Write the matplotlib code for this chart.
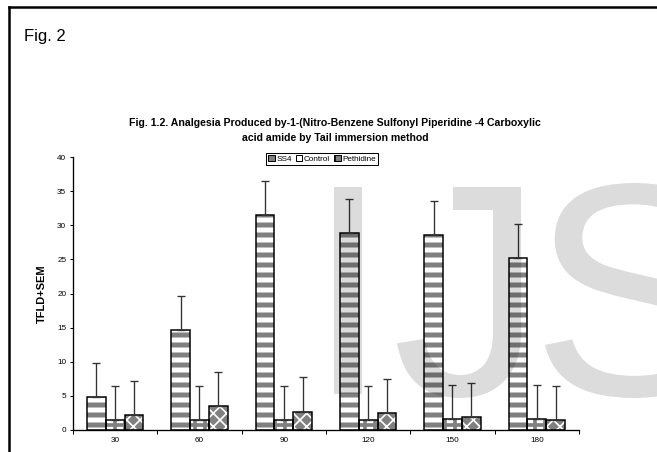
import matplotlib
matplotlib.use("Agg")
import matplotlib.pyplot as plt
import numpy as np
from matplotlib.patches import Patch, PathPatch
from matplotlib.lines import Line2D
from matplotlib.textpath import TextPath
from matplotlib.font_manager import FontProperties
from matplotlib.transforms import Affine2D

plt.rcParams['font.family'] = ['Liberation Sans', 'DejaVu Sans']

times = ['30', '60', '90', '120', '150', '180']
ss4 = [4.8, 14.6, 31.5, 28.9, 28.6, 25.2]
ss4_err = [5.0, 5.0, 5.0, 5.0, 5.0, 5.0]
control = [1.5, 1.5, 1.5, 1.5, 1.6, 1.6]
control_err = [5.0, 5.0, 5.0, 5.0, 5.0, 5.0]
pethidine = [2.2, 3.5, 2.7, 2.5, 1.9, 1.5]
pethidine_err = [5.0, 5.0, 5.0, 5.0, 5.0, 5.0]

W, H = 657, 452
fig = plt.figure(figsize=(W/120, H/120), dpi=120)

# watermark letters, placed by their ink box (left px, top px, bottom px);
# translucent black on top so white -> light gray, like a multiply overlay
wm_fp = FontProperties(family='Liberation Sans')
for letter, left, top, bottom in [('I', 334, 187, 394), ('J', 397, 187, 398), ('S', 545, 183, 398)]:
    tp = TextPath((0, 0), letter, size=1, prop=wm_fp)
    ext = tp.get_extents()
    s = (bottom - top) / ext.height
    tr = Affine2D().translate(-ext.x0, -ext.y0).scale(s/W, s/H).translate(left/W, 1-bottom/H)
    fig.add_artist(PathPatch(tp, transform=tr + fig.transFigure, facecolor='black',
                             alpha=0.137, lw=0, zorder=5))

# page frame
fig.add_artist(Line2D([9/W, 9/W], [0, 1-7/H], color='black', lw=1.5))
fig.add_artist(Line2D([9/W, 1], [1-7/H, 1-7/H], color='black', lw=1.5))

fig.text(24/W, 1-36/H, 'Fig. 2', fontsize=10, va='center', ha='left')
fig.text(335/W, 1-130.5/H,
         'Fig. 1.2. Analgesia Produced by-1-(Nitro-Benzene Sulfonyl Piperidine -4 Carboxylic\nacid amide by Tail immersion method',
         fontsize=6.3, fontweight='bold', ha='center', va='center', linespacing=1.55)

ax = fig.add_axes([73/W, 1-430/H, 506/W, 273/H])

x = np.arange(len(times))
w = 1/4.5
gray = '#808080'

def draw(vals, errs, off, face, hatch, hcolor, hlw):
    with plt.rc_context({'hatch.linewidth': hlw}):
        bars = ax.bar(x + off, vals, w, color=face, edgecolor=hcolor, hatch=hatch,
                      linewidth=0, zorder=2)
    for b in bars:
        if hasattr(b, 'set_hatch_linewidth'):
            b.set_hatch_linewidth(hlw)
    ax.bar(x + off, vals, w, color='none', edgecolor='black', linewidth=0.9, zorder=3)
    ax.errorbar(x + off, vals, yerr=[np.zeros(len(vals)), errs], fmt='none',
                ecolor='#333333', elinewidth=0.8, capsize=2.2, capthick=0.8, zorder=4)

draw(ss4, ss4_err, -w, 'white', '--', gray, 3.0)
draw(control, control_err, 0, 'white', '++', gray, 2.2)
draw(pethidine, pethidine_err, w, gray, 'xxx', 'white', 1.0)

ax.set_xlim(-0.5, len(times) - 0.5)
ax.set_ylim(0, 40)
ax.set_yticks(np.arange(0, 41, 5))
ax.set_xticks(x)
ax.set_xticklabels(times)
ax.set_xticks(np.arange(-0.5, len(times), 1), minor=True)
ax.tick_params(axis='x', which='major', length=0, labelsize=4.9, pad=4)
ax.tick_params(axis='x', which='minor', length=2.5, width=0.6, direction='out')
ax.tick_params(axis='y', length=2, width=0.6, labelsize=4.9, pad=2)
ax.spines['top'].set_visible(False)
ax.spines['right'].set_visible(False)
ax.spines['left'].set_linewidth(0.8)
ax.spines['bottom'].set_linewidth(0.8)
ax.set_ylabel('TFLD+SEM', fontsize=6.6, fontweight='bold', labelpad=6)

with plt.rc_context({'hatch.linewidth': 1.0}):
    handles = [Patch(facecolor=gray, edgecolor='black', linewidth=0.6, label='SS4'),
               Patch(facecolor='white', edgecolor='black', linewidth=0.6, label='Control'),
               Patch(facecolor=gray, edgecolor='black', hatch='++', linewidth=0.6, label='Pethidine')]
leg = ax.legend(handles=handles, loc='upper center', bbox_to_anchor=(0.492, 1.015), ncol=3,
                fontsize=4.9, handlelength=0.8, handleheight=0.8, handletextpad=0.2,
                columnspacing=0.5, borderpad=0.25, fancybox=False, framealpha=1,
                edgecolor='black', borderaxespad=0)
leg.get_frame().set_linewidth(0.6)

fig.savefig('out.png', dpi=120)
